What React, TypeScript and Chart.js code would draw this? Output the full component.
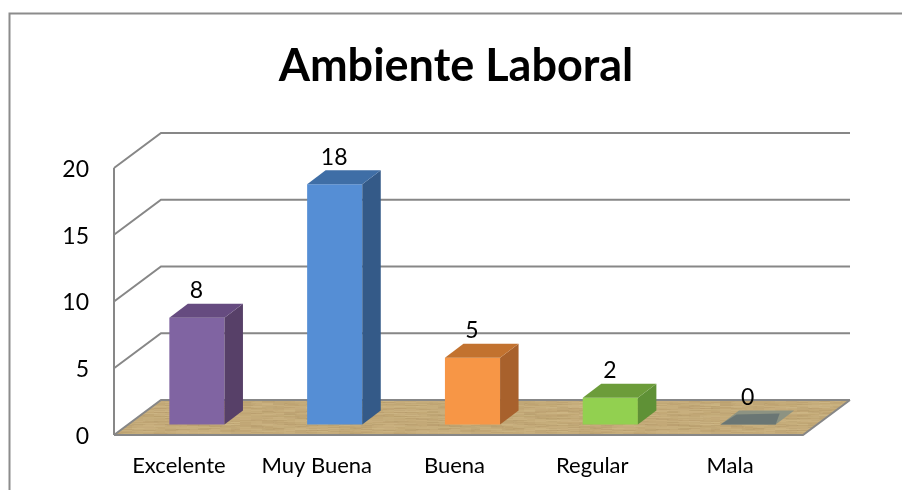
import React, { useEffect, useRef } from "react";
import { Chart, registerables } from "chart.js";

Chart.register(...registerables);

const TITLE = "Ambiente Laboral";
const categories = ["Excelente", "Muy Buena", "Buena", "Regular", "Mala"];
const values = [8, 18, 5, 2, 0];
const frontColors = ["#8064a2", "#558ed5", "#f79646", "#92d050", "#6a7674"];
const topColors = ["#664b80", "#3f6ea6", "#c2722f", "#6c9c3a", "#8d9382"];
const sideColors = ["#574068", "#345a88", "#a8612c", "#5f9136", "#8d9382"];

const FONT = "Lato, Carlito, sans-serif";
const DEPTH_X = 47;
const DEPTH_Y = 35;
const BAR_SHIFT_X = 14;
const BAR_SHIFT_Y = 10.5;
const BAR_DX = 18.5;
const BAR_DY = 14;
const LINE = "#878787";

function woodPattern(ctx: CanvasRenderingContext2D) {
  const c = document.createElement("canvas");
  c.width = 240;
  c.height = 40;
  const p = c.getContext("2d")!;
  p.fillStyle = "#c3a977";
  p.fillRect(0, 0, 240, 40);
  for (let y = 0; y < 40; y += 1) {
    for (let x = 0; x < 240; x += 11) {
      const n = Math.sin(x * 12.9898 + y * 78.233) * 43758.5453;
      const f = n - Math.floor(n);
      p.fillStyle = f > 0.5 ? `rgba(218,198,150,${(f - 0.5) * 0.5})` : `rgba(160,132,88,${(0.5 - f) * 0.4})`;
      p.fillRect(x, y, 12 + f * 14, 1);
    }
  }
  return ctx.createPattern(c, "repeat")!;
}

const poly = (ctx: CanvasRenderingContext2D, pts: number[][], fill: any) => {
  ctx.beginPath();
  pts.forEach(([x, y], i) => (i ? ctx.lineTo(x, y) : ctx.moveTo(x, y)));
  ctx.closePath();
  ctx.fillStyle = fill;
  ctx.fill();
};

const scene3d = {
  id: "scene3d",
  beforeDraw(chart: any) {
    const ctx: CanvasRenderingContext2D = chart.ctx;
    ctx.save();
    ctx.fillStyle = "#ffffff";
    ctx.fillRect(0, 0, chart.width, chart.height);
    ctx.strokeStyle = "#8c8c8c";
    ctx.lineWidth = 2;
    ctx.beginPath();
    ctx.moveTo(9.5, chart.height);
    ctx.lineTo(9.5, 13.5);
    ctx.lineTo(chart.width, 13.5);
    ctx.stroke();
    ctx.restore();
  },
  beforeDatasetsDraw(chart: any) {
    const ctx: CanvasRenderingContext2D = chart.ctx;
    const { left, right } = chart.chartArea;
    const y = chart.scales.y;
    const y0 = y.getPixelForValue(0);
    ctx.save();
    poly(
      ctx,
      [
        [left, y0],
        [right, y0],
        [right + DEPTH_X, y0 - DEPTH_Y],
        [left + DEPTH_X, y0 - DEPTH_Y],
      ],
      woodPattern(ctx)
    );
    ctx.strokeStyle = LINE;
    ctx.lineWidth = 2;
    y.ticks.forEach((t: any) => {
      const py = y.getPixelForValue(t.value);
      ctx.beginPath();
      ctx.moveTo(left, py);
      ctx.lineTo(left + DEPTH_X, py - DEPTH_Y);
      ctx.lineTo(right + DEPTH_X, py - DEPTH_Y);
      if (t.value === 0) {
        ctx.moveTo(left, py);
        ctx.lineTo(right, py);
        ctx.lineTo(right + DEPTH_X, py - DEPTH_Y);
      }
      ctx.stroke();
    });
    ctx.beginPath();
    ctx.moveTo(left, y.getPixelForValue(20));
    ctx.lineTo(left, y0);
    ctx.stroke();
    ctx.restore();
    ctx.save();
    ctx.translate(BAR_SHIFT_X, -BAR_SHIFT_Y);
  },
  afterDatasetsDraw(chart: any) {
    const ctx: CanvasRenderingContext2D = chart.ctx;
    ctx.restore();
    ctx.save();
    const bars = chart.getDatasetMeta(0).data;
    bars.forEach((bar: any, i: number) => {
      const l = bar.x - bar.width / 2 + BAR_SHIFT_X;
      const r = bar.x + bar.width / 2 + BAR_SHIFT_X;
      const t = bar.y - BAR_SHIFT_Y;
      const b = bar.base - BAR_SHIFT_Y;
      poly(
        ctx,
        [
          [r, t],
          [r + BAR_DX, t - BAR_DY],
          [r + BAR_DX, b - BAR_DY],
          [r, b],
        ],
        sideColors[i]
      );
      poly(
        ctx,
        [
          [l, t],
          [l + BAR_DX, t - BAR_DY],
          [r + BAR_DX, t - BAR_DY],
          [r, t],
        ],
        topColors[i]
      );
      if (values[i] === 0) {
        // a zero-height box shows its darker front colour over most of the footprint
        poly(
          ctx,
          [
            [l, t],
            [l + 16, t - 10],
            [r + 4, t - 11],
            [r, t],
          ],
          frontColors[i]
        );
      }
      ctx.fillStyle = "#000000";
      ctx.font = `23px ${FONT}`;
      ctx.textAlign = "center";
      ctx.textBaseline = "middle";
      ctx.fillText(String(values[i]), bar.x + BAR_SHIFT_X - 0.5, t - 27);
    });
    ctx.restore();
  },
};

export default function App() {
  const ref = useRef<HTMLCanvasElement | null>(null);
  useEffect(() => {
    const chart = new Chart(ref.current!, {
      type: "bar",
      data: {
        labels: categories,
        datasets: [
          {
            data: values,
            backgroundColor: frontColors,
            barPercentage: 0.4,
            categoryPercentage: 1,
            clip: false as any,
          },
        ],
      },
      plugins: [scene3d],
      options: {
        animation: false,
        responsive: false,
        layout: { padding: { left: 10, right: 0, top: 0, bottom: 0 } },
        plugins: {
          legend: { display: false },
          tooltip: { enabled: false },
          title: {
            display: true,
            text: TITLE,
            color: "#000000",
            font: { family: FONT, size: 45, weight: "bold", lineHeight: 1.2 },
            padding: { top: 39.5, bottom: 74.5 },
          },
        },
        scales: {
          x: {
            grid: { display: false, drawTicks: false },
            border: { display: false },
            afterFit: (s: any) => {
              s.height = 55;
            },
            ticks: {
              color: "#000000",
              font: { family: FONT, size: 22 },
              padding: 18,
              labelOffset: -4,
              maxRotation: 0,
              autoSkip: false,
            },
          },
          y: {
            min: 0,
            max: 20,
            grid: { display: false, drawTicks: false },
            border: { display: false },
            afterFit: (s: any) => {
              s.width = 104;
            },
            ticks: {
              stepSize: 5,
              color: "#000000",
              font: { family: FONT, size: 23 },
              padding: 25,
              labelOffset: 1.5,
            },
          },
          spacer: {
            position: "right",
            display: true,
            grid: { display: false, drawTicks: false },
            border: { display: false },
            ticks: { display: false },
            afterFit: (s: any) => {
              s.width = 99;
            },
          },
        },
      },
    } as any);
    return () => chart.destroy();
  }, []);
  return (
    <div style={{ position: "absolute", left: 0, top: 0, width: 902, height: 490 }}>
      <canvas ref={ref} width={902} height={490} style={{ display: "block" }} />
    </div>
  );
}
